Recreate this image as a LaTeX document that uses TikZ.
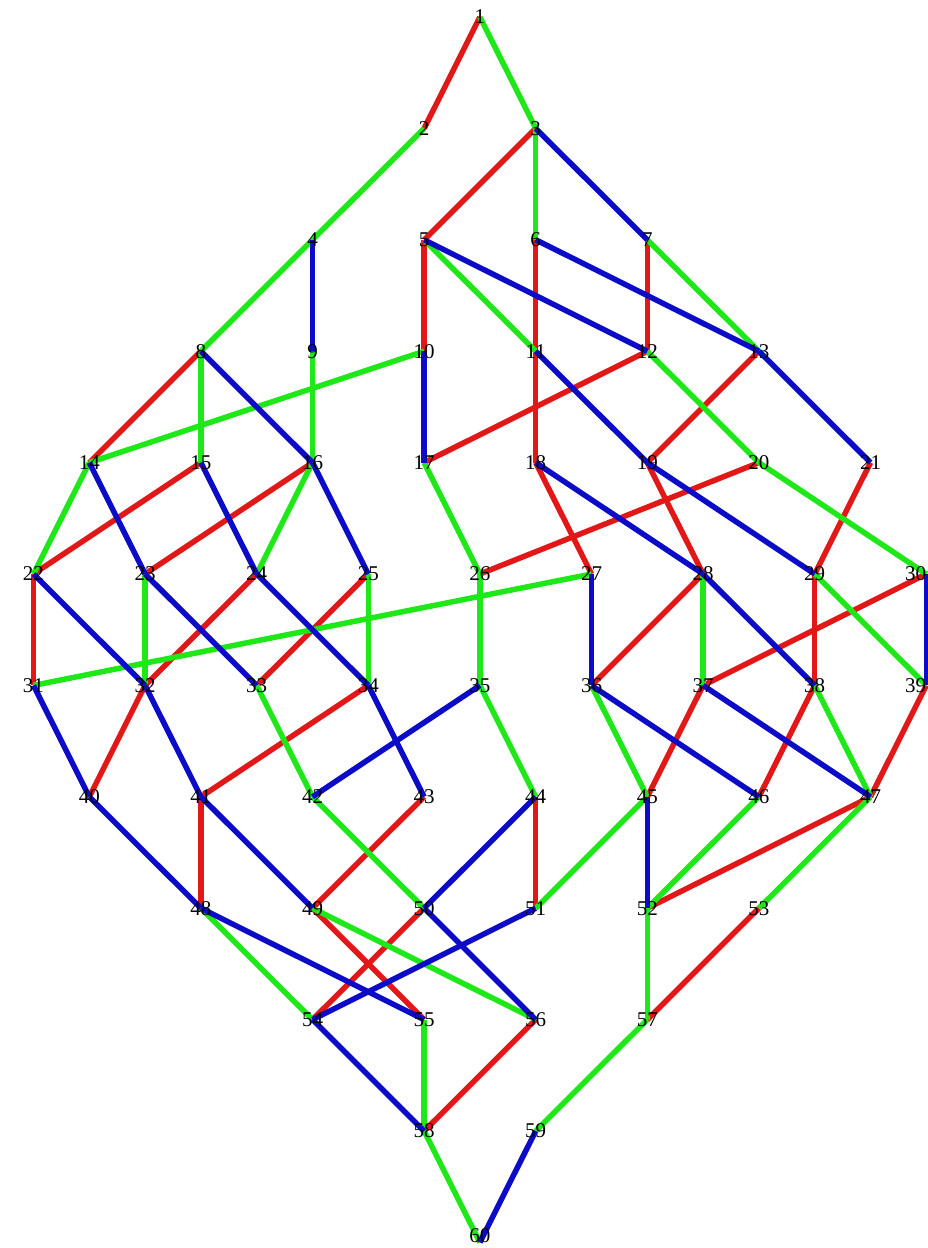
\documentclass[tikz,border=0pt]{standalone}
\usepackage{fontspec}
\setmainfont{Liberation Serif}
\usetikzlibrary{backgrounds}
\definecolor{er}{RGB}{226,24,24}
\definecolor{eg}{RGB}{30,232,24}
\definecolor{eb}{RGB}{12,12,200}
\tikzset{
  lbl/.style={font=\fontsize{21}{21}\selectfont, inner sep=0pt, text=black},
  redge/.style={draw=er, line width=5.5pt},
  gedge/.style={draw=eg, line width=5.5pt},
  bedge/.style={draw=eb, line width=5.5pt},
}
\begin{document}
\begin{tikzpicture}[x=1pt,y=-1pt]
\useasboundingbox (0,0) rectangle (927,1248);
\foreach \n/\k/\r/\anc in {1/8/0/center,
  2/7/1/center, 3/9/1/center,
  4/5/2/center, 5/7/2/center, 6/9/2/center, 7/11/2/center,
  8/3/3/center, 9/5/3/center, 10/7/3/center, 11/9/3/center, 12/11/3/center, 13/13/3/center,
  14/1/4/center, 15/3/4/center, 16/5/4/center, 17/7/4/center, 18/9/4/center, 19/11/4/center, 20/13/4/center, 21/15/4/center,
  22/0/5/center, 23/2/5/center, 24/4/5/center, 25/6/5/center, 26/8/5/center, 27/10/5/center, 28/12/5/center, 29/14/5/center, 30/16/5/east,
  31/0/6/center, 32/2/6/center, 33/4/6/center, 34/6/6/center, 35/8/6/center, 36/10/6/center, 37/12/6/center, 38/14/6/center, 39/16/6/east,
  40/1/7/center, 41/3/7/center, 42/5/7/center, 43/7/7/center, 44/9/7/center, 45/11/7/center, 46/13/7/center, 47/15/7/center,
  48/3/8/center, 49/5/8/center, 50/7/8/center, 51/9/8/center, 52/11/8/center, 53/13/8/center,
  54/5/9/center, 55/7/9/center, 56/9/9/center, 57/11/9/center,
  58/7/10/center, 59/9/10/center,
  60/8/11/south}
{
  \coordinate (p\n) at ({33.5+55.8*\k},{17+111.4*\r});
  \node[lbl, anchor=\anc] (n\n) at (p\n) {\n};
}
\begin{scope}[on background layer]
\foreach \a/\b in {1/2, 3/5, 5/10, 6/11, 11/18, 7/12, 8/14, 12/17, 13/19, 15/22,
  16/23, 18/27, 19/28, 20/26, 21/29, 22/31, 24/32, 25/33, 28/36, 30/37, 29/38,
  32/40, 34/41, 37/45, 38/46, 39/47, 41/48, 43/49, 44/51, 47/52, 49/55, 50/54,
  53/57, 56/58}
  \draw[redge] (p\a) -- (p\b);
\foreach \a/\b in {1/3, 2/4, 3/6, 4/8, 5/11, 7/13, 8/15, 9/16, 10/14, 12/20,
  14/22, 16/24, 17/26, 20/30, 23/32, 25/34, 26/35, 27/31, 28/37, 29/39, 33/42,
  35/44, 36/45, 38/47, 42/50, 45/51, 46/52, 47/53, 48/54, 49/56, 52/57, 55/58,
  57/59, 58/60}
  \draw[gedge] (p\a) -- (p\b);
\foreach \a/\b in {3/7, 4/9, 5/12, 6/13, 8/16, 10/17, 11/19, 13/21, 14/23, 15/24,
  16/25, 18/28, 19/29, 22/32, 23/33, 24/34, 27/36, 28/38, 30/39, 31/40, 32/41,
  34/43, 35/42, 36/46, 37/47, 40/48, 41/49, 44/50, 45/52, 48/55, 50/56, 51/54,
  54/58, 59/60}
  \draw[bedge] (p\a) -- (p\b);
\end{scope}
\end{tikzpicture}
\end{document}
